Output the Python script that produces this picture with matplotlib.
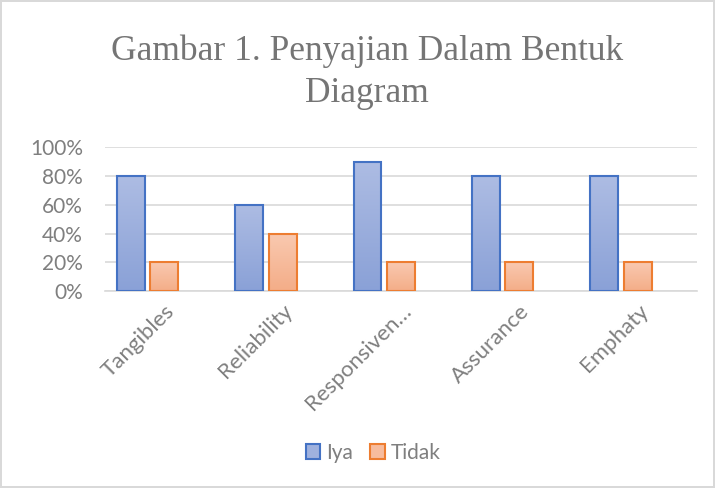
import numpy as np
import matplotlib
matplotlib.use('Agg')
import matplotlib.pyplot as plt
from matplotlib.colors import LinearSegmentedColormap
from matplotlib.patches import Patch

# data
categories = ['Tangibles', 'Reliability', 'Responsiven…', 'Assurance', 'Emphaty']
iya = [0.8, 0.6, 0.9, 0.8, 0.8]
tidak = [0.2, 0.4, 0.2, 0.2, 0.2]
yticks = [0, 0.2, 0.4, 0.6, 0.8, 1.0]
ytick_labels = ['0%', '20%', '40%', '60%', '80%', '100%']

fig = plt.figure(figsize=(7.15, 4.88), dpi=100)
fig.patch.set_edgecolor('#d9d9d9')
fig.patch.set_linewidth(1.5)
ax = fig.add_axes([0.1469, 0.4037, 0.8279, 0.2945])

x = np.arange(len(categories))
w = 0.236
blue_cmap = LinearSegmentedColormap.from_list('b', ['#adbce3', '#8aa1d7'])
orange_cmap = LinearSegmentedColormap.from_list('o', ['#f9c9b0', '#f4ad88'])

def gradient_bars(xpos, vals, cmap, edge):
    bars = ax.bar(xpos, vals, width=w, color='none', edgecolor=edge, linewidth=1.5, zorder=3)
    grad = np.linspace(0, 1, 100).reshape(-1, 1)
    for b in bars:
        x0, y0 = b.get_x(), b.get_y()
        im = ax.imshow(grad, cmap=cmap, aspect='auto', origin='upper',
                       extent=[x0, x0 + b.get_width(), y0, y0 + b.get_height()], zorder=2)
        im.set_clip_path(b)
    return bars

gradient_bars(x - 0.283, iya, blue_cmap, '#4472c4')
gradient_bars(x, tidak, orange_cmap, '#ed7d31')

ax.set_xlim(-0.5, 4.5)
ax.set_ylim(0, 1.0)
ax.set_yticks(yticks)
ax.set_yticklabels(ytick_labels)
ax.yaxis.grid(True, color='#d9d9d9', linewidth=1.2, zorder=0)
ax.set_axisbelow(True)
for s in ['top', 'right', 'left']:
    ax.spines[s].set_visible(False)
ax.spines['bottom'].set_color('#d9d9d9')
ax.spines['bottom'].set_linewidth(1.2)
ax.tick_params(axis='y', length=0, labelsize=15, colors='#7f7f7f', pad=16)
ax.tick_params(axis='x', length=0, labelsize=16, colors='#7f7f7f', pad=7)
ax.set_xticks(x)
ax.set_xticklabels(categories, rotation=45, ha='right', rotation_mode='anchor')
for lab in ax.get_yticklabels() + ax.get_xticklabels():
    lab.set_family('Lato')

fig.text(0.513, 0.852, 'Gambar 1. Penyajian Dalam Bentuk\nDiagram', ha='center', va='center',
         fontsize=25.5, color='#757575', family='Liberation Serif', linespacing=1.35)

handles = [Patch(facecolor='#9fb1de', edgecolor='#4472c4', linewidth=1.5, label='Iya'),
           Patch(facecolor='#f7bc9e', edgecolor='#ed7d31', linewidth=1.5, label='Tidak')]
fig.legend(handles=handles, loc='center', bbox_to_anchor=(0.522, 0.072), ncol=2, frameon=False,
           prop={'family': 'Lato', 'size': 15}, labelcolor='#7f7f7f',
           handlelength=0.7, handleheight=0.7, handletextpad=0.3, columnspacing=0.8)

fig.savefig('out.png', dpi=100)
